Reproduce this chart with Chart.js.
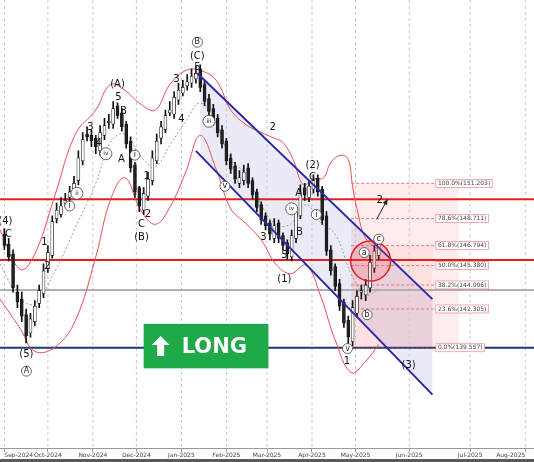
<!DOCTYPE html>
<html><head><meta charset="utf-8">
<script src="https://cdn.jsdelivr.net/npm/chart.js@4"></script>
<style>html,body{margin:0;padding:0;background:#fff;overflow:hidden;}</style>
</head><body><canvas id="c" width="534" height="462"></canvas>
<script>
const days=[0,3,6,9,12,15,18,21,24,27,30,33,36,39,42,45,48,51,54,57,60,63,66,69,72,75,78,81,84,87,90,93,96,99,102,105,108,111,114,117,120,123,126,129,132,135,138,141,144,147,150,153,156,159,162,165,168,171,174,177,180,183,186,189,192,195,198,201,204,207,210,213,216,219,222,225,228,231,234,237,240,243,246,249,252,255,258];
const opens=[147.6,146.9,146.2,143.5,143.0,141.9,140.6,141.4,142.7,143.4,145.2,146.1,148.7,149.0,149.8,150.2,150.5,151.4,152.8,154.7,154.6,154.4,153.5,154.6,155.5,155.4,156.7,156.2,155.4,154.2,152.5,150.9,149.3,150.3,151.4,152.8,154.4,155.0,156.2,156.1,157.1,157.6,158.1,158.3,158.6,159.3,158.2,157.2,156.5,155.8,155.0,154.2,153.0,152.4,151.2,151.4,152.3,151.4,150.6,149.7,148.9,148.4,147.3,148.4,147.5,147.0,146.0,147.3,148.9,150.9,150.2,150.8,151.6,150.8,148.9,146.5,145.3,144.1,142.8,141.5,140.0,142.0,143.5,143.3,143.8,145.2,146.1];
const closes=[146.8,146.0,143.8,142.8,141.8,140.4,141.6,142.5,143.6,145.0,146.3,148.5,149.3,149.6,150.0,150.6,151.2,153.0,154.3,154.5,154.2,153.8,154.8,155.3,155.6,156.5,156.0,155.2,154.0,152.3,150.6,149.6,150.5,151.5,153.0,154.2,155.2,156.0,156.4,157.3,157.8,158.0,158.4,158.8,159.0,158.0,157.0,156.3,155.6,154.8,154.0,152.8,152.2,151.5,151.6,152.0,151.2,150.4,149.5,148.6,148.2,147.6,148.2,147.3,146.8,146.2,147.5,149.2,150.6,150.4,151.0,151.4,150.6,148.6,146.4,145.0,143.9,142.5,141.3,140.3,142.4,143.2,143.6,144.0,145.6,146.4,146.9];
const highs=[148.0,147.3,146.5,144.0,143.5,142.3,142.0,142.9,144.0,145.5,146.8,148.9,149.8,150.2,150.5,151.0,151.7,153.5,154.8,155.2,155.0,154.6,155.3,155.8,156.1,157.0,156.9,156.5,155.6,154.5,152.7,151.0,150.9,152.0,153.5,154.7,155.6,156.4,157.0,157.7,158.3,158.5,158.9,159.3,159.5,159.6,158.5,157.5,156.8,156.1,155.3,154.4,153.3,152.7,152.1,152.5,152.6,151.6,150.8,149.9,149.1,148.6,148.7,148.6,147.7,147.2,147.9,149.6,151.1,151.2,151.4,151.8,151.8,151.0,149.2,146.8,145.5,144.4,143.0,141.8,142.9,143.6,144.0,144.4,146.1,146.8,147.4];
const lows=[146.5,145.7,143.5,142.4,141.4,139.9,140.3,141.1,142.4,143.1,144.9,145.9,148.4,148.8,149.6,150.0,150.3,151.1,152.5,154.2,153.8,153.3,153.2,154.3,155.1,155.1,155.8,154.9,153.7,152.0,150.2,149.2,149.0,150.0,151.1,152.6,154.0,154.8,156.0,155.8,156.8,157.4,157.8,158.0,158.3,157.7,156.7,156.0,155.3,154.5,153.7,152.5,151.9,151.2,150.9,151.1,150.9,150.1,149.2,148.3,147.9,147.2,147.0,147.0,146.5,145.8,145.7,147.0,148.7,150.0,149.9,150.5,150.3,148.3,146.1,144.7,143.6,142.2,141.0,139.6,139.7,141.7,143.0,142.9,143.5,144.9,145.8];
const upperDays=[-3,11,21,35,49,63,73,83,94,104,114,125,135,146,156,166,177,186,192,199,206,213,220,225,232,237,240,243,249,258];
const upperBand=[147.9,145.1,146.2,150.4,154.7,156.4,158.2,157.8,156.8,156.4,158.2,159.2,159.2,158.5,156.4,155.4,154.8,154.4,154.1,152.9,151.1,151.5,151.6,152.7,153.2,152.9,151.0,149.4,147.3,146.5];
const bandDays=[-3,11,21,35,49,63,73,83,94,104,114,125,135,146,156,166,177,187,197,208,218,228,239,249,258];
const lowerBand=[143.0,140.9,139.3,139.6,141.5,146.0,150.0,151.6,149.3,148.3,149.5,152.0,154.6,152.2,149.4,148.4,147.2,145.5,144.8,145.4,143.2,140.1,137.8,138.6,139.8];
const midBand=[145.5,143.0,142.7,145.0,148.1,151.2,154.1,154.7,153.1,152.4,153.9,155.6,156.9,155.4,152.9,151.9,149.7,148.3,148.3,149.7,148.4,147.6,144.8,143.3,143.7];
const monthLabels=['Sep-2024','Oct-2024','Nov-2024','Dec-2024','Jan-2025','Feb-2025','Mar-2025','Apr-2025','May-2025','Jun-2025','Jul-2025','Aug-2025'];
const monthTicks=[0,30,61,91,122,153,181,212,242,279,321,359];
const fibLevels=['100.0%','78.6%','61.8%','50.0%','38.2%','23.6%','0.0%'];
const fibPrices=[151.203,148.711,146.794,145.380,144.006,142.305,139.557];
const hLines=[150.07,145.77,143.65,139.557];
const waveLabels=[
[0.7,148.5,'(4)',0],[2.8,147.6,'C',0],[27.6,147.0,'1',0],[29.7,145.3,'2',0],[15.2,139.06,'(5)',0],[15.2,137.9,'A',1],
[78,158.2,'(A)',0],[78.6,157.3,'5',0],[59.3,155.2,'3',0],[65,154.0,'4',0],[80.7,152.9,'A',0],[82,156.3,'B',0],
[94.5,147.4,'(B)',0],[94.5,148.3,'C',0],[99,149.0,'2',0],[98,151.7,'1',0],[118.6,158.6,'3',0],[122,155.7,'4',0],
[133,161.2,'B',1],[133,160.2,'(C)',0],[133,159.4,'5',0],[185,155.2,'2',0],[178.6,147.4,'3',0],[193,146.1,'5',0],
[193,144.4,'(1)',0],[203.4,147.7,'B',0],[202.8,150.5,'A',0],[212.4,151.6,'C',0],[212.4,152.5,'(2)',0],
[236,138.6,'1',0],[258.6,150.0,'2',0],[278.6,138.3,'(3)',0],[248,146.3,'a',1],[250,141.9,'b',1],[258,147.25,'c',1],[236.5,139.5,'v',1],
[45,149.6,'i',1],[50,150.5,'ii',1],[70,153.3,'iv',1],[90,153.2,'i',1],[141,155.6,'iii',1],[152,151.0,'v',1],[198,149.4,'iv',1],[215,149.0,'i',1]
];
const candleData=days.map((d,i)=>({x:d,y:[opens[i],closes[i]]}));
const wickData=days.map((d,i)=>({x:d,y:[lows[i],highs[i]]}));
const xy=(a,b)=>a.map((d,i)=>({x:d,y:b[i]}));

const deco={id:'deco',
beforeDatasetsDraw(ch){const {ctx,scales:{x,y},chartArea:a}=ch;const X=v=>x.getPixelForValue(v),Y=v=>y.getPixelForValue(v);
 ctx.save();
 ctx.fillStyle='rgba(255,140,140,0.16)';ctx.fillRect(X(239),Y(151.203),X(313)-X(239),Y(139.557)-Y(151.203));
 ctx.fillStyle='rgba(255,140,140,0.12)';ctx.fillRect(X(239),Y(146.794),X(295)-X(239),Y(139.557)-Y(146.794));
 ctx.fillStyle='rgba(110,110,200,0.14)';ctx.beginPath();
 ctx.moveTo(X(135),Y(158.8));ctx.lineTo(X(295),Y(143.0));ctx.lineTo(X(295),Y(136.24));ctx.lineTo(X(135),Y(153.3));ctx.closePath();ctx.fill();
 ctx.strokeStyle='#c8c8c8';ctx.setLineDash([3,3]);ctx.lineWidth=1;
 monthTicks.forEach(d=>{const px=X(d);if(px>a.left&&px<a.right){ctx.beginPath();ctx.moveTo(px,a.top);ctx.lineTo(px,a.bottom);ctx.stroke();}});
 ctx.setLineDash([]);
 const hc=['#e02020','#e02020','#b0b0b0','#1f3a6e'];
 hLines.forEach((p,i)=>{ctx.strokeStyle=hc[i];ctx.lineWidth=2;ctx.beginPath();ctx.moveTo(0,Y(p));ctx.lineTo(534,Y(p));ctx.stroke();});
 ctx.strokeStyle='rgba(230,60,60,0.8)';ctx.lineWidth=0.8;ctx.setLineDash([3,2]);
 fibPrices.forEach(p=>{ctx.beginPath();ctx.moveTo(X(239),Y(p));ctx.lineTo(X(297),Y(p));ctx.stroke();});
 ctx.setLineDash([]);
 ctx.restore();},
afterDatasetsDraw(ch){const {ctx,scales:{x,y}}=ch;const X=v=>x.getPixelForValue(v),Y=v=>y.getPixelForValue(v);
 ctx.save();
 ctx.strokeStyle='#2a2aa8';ctx.lineWidth=2;
 ctx.beginPath();ctx.moveTo(X(133),Y(159.0));ctx.lineTo(X(295),Y(143.0));ctx.stroke();
 ctx.beginPath();ctx.moveTo(X(132),Y(153.5));ctx.lineTo(X(295),Y(136.24));ctx.stroke();
 ctx.beginPath();ctx.arc(X(252.4),Y(145.7),20,0,Math.PI*2);ctx.fillStyle='rgba(255,80,80,0.2)';ctx.fill();ctx.strokeStyle='#e02020';ctx.lineWidth=1.5;ctx.stroke();
 const ax1=X(256.6),ay1=Y(148.66),ax2=X(264),ay2=Y(150.07);
 ctx.strokeStyle='#222';ctx.lineWidth=1;ctx.beginPath();ctx.moveTo(ax1,ay1);ctx.lineTo(ax2,ay2);ctx.stroke();
 const ang=Math.atan2(ay2-ay1,ax2-ax1);ctx.fillStyle='#222';ctx.beginPath();ctx.moveTo(ax2,ay2);
 ctx.lineTo(ax2-6*Math.cos(ang-0.45),ay2-6*Math.sin(ang-0.45));ctx.lineTo(ax2-6*Math.cos(ang+0.45),ay2-6*Math.sin(ang+0.45));ctx.fill();
 ctx.font='6px "DejaVu Sans"';ctx.textAlign='center';ctx.textBaseline='middle';
 fibLevels.forEach((l,i)=>{const t=l+'('+fibPrices[i].toFixed(3)+')';const w=ctx.measureText(t).width+4;const cx=X(296)+w/2+2,cy=Y(fibPrices[i]);
  ctx.fillStyle='#fff';ctx.fillRect(cx-w/2,cy-4,w,8);ctx.strokeStyle='#e88';ctx.lineWidth=0.7;ctx.strokeRect(cx-w/2,cy-4,w,8);ctx.fillStyle='#444';ctx.fillText(t,cx,cy);});
 waveLabels.forEach(([d,p,t,c])=>{const px=X(d),py=Y(p);
  if(c){ctx.beginPath();ctx.arc(px,py,t.length>1?6:5,0,Math.PI*2);ctx.fillStyle='#fff';ctx.fill();ctx.strokeStyle='#444';ctx.lineWidth=0.8;ctx.stroke();
   ctx.fillStyle='#222';ctx.font=(t.length>1?'6px':'8px')+' "DejaVu Sans"';ctx.fillText(t,px,py);}
  else{ctx.fillStyle='#111';ctx.font='10px "DejaVu Sans"';ctx.fillText(t,px,py);}});
 const bx=X(96),by=Y(141.25),bw=X(182)-bx,bh=Y(138.1)-by;
 ctx.fillStyle='#1faa4a';ctx.fillRect(bx,by,bw,bh);
 const cx0=bx+17,cy0=by+bh/2;ctx.fillStyle='#fff';ctx.beginPath();
 ctx.moveTo(cx0,cy0-10);ctx.lineTo(cx0+9,cy0-1);ctx.lineTo(cx0+3.5,cy0-1);ctx.lineTo(cx0+3.5,cy0+10);ctx.lineTo(cx0-3.5,cy0+10);ctx.lineTo(cx0-3.5,cy0-1);ctx.lineTo(cx0-9,cy0-1);ctx.closePath();ctx.fill();
 ctx.font='bold 21px "DejaVu Sans"';ctx.textAlign='left';ctx.fillText('LONG',bx+38,cy0+1);
 ctx.restore();},
afterDraw(ch){const ctx=ch.ctx;ctx.save();ctx.fillStyle='#5a5a5a';ctx.fillRect(0,459,534,3);ctx.restore();}
};

new Chart(document.getElementById('c'),{
 type:'bar',
 data:{datasets:[
  {type:'line',data:xy(upperDays,upperBand),borderColor:'#e85050',borderWidth:1,pointRadius:0,tension:0.4,order:5},
  {type:'line',data:xy(bandDays,lowerBand),borderColor:'#e85050',borderWidth:1,pointRadius:0,tension:0.4,order:5},
  {type:'line',data:xy(bandDays,midBand),borderColor:'#888',borderWidth:0.8,borderDash:[2,2],pointRadius:0,tension:0.4,order:5},
  {data:wickData,backgroundColor:'#111',barThickness:1,grouped:false,order:2},
  {data:candleData,backgroundColor:candleData.map(d=>d.y[1]>=d.y[0]?'#fff':'#222'),borderColor:'#111',borderWidth:0.7,borderSkipped:false,barThickness:3,grouped:false,order:1}
 ]},
 options:{responsive:false,animation:false,plugins:{legend:{display:false},tooltip:{enabled:false}},
  layout:{padding:{bottom:3,left:0,right:0,top:0}},
  scales:{
   x:{type:'linear',offset:false,min:-3,max:365,grid:{display:true,offset:false,drawOnChartArea:false,tickLength:3,color:'#999'},border:{color:'#999'},
    afterBuildTicks:s=>{s.ticks=monthTicks.map(v=>({value:v}));},
    ticks:{autoSkip:false,maxRotation:0,align:'inner',font:{size:6,family:'DejaVu Sans'},color:'#444',padding:0,callback:v=>monthLabels[monthTicks.indexOf(v)]}},
   y:{min:132.4,max:164.19,display:false}
  }}
 ,plugins:[deco]});
</script></body></html>
